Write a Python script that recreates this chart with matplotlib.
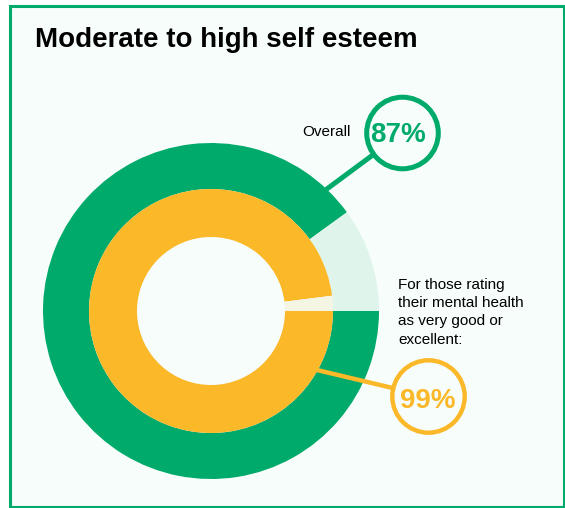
import matplotlib
matplotlib.use("Agg")
import matplotlib.pyplot as plt
from matplotlib.patches import Rectangle, Circle
import numpy as np

plt.rcParams['font.family'] = ['Liberation Sans', 'DejaVu Sans']

title = "Moderate to high self esteem"
overall_label = "Overall"
overall_text = "87%"
overall_ring = [90, 10]      # green share, remainder (as drawn)
subgroup_label = "For those rating\ntheir mental health\nas very good or\nexcellent:"
subgroup_text = "99%"
subgroup_ring = [98, 2]      # yellow share, remainder (as drawn)

green = "#00AA6A"
mint = "#DFF4EB"
yellow = "#FBB829"
cream = "#F5F5E4"
bg = "#F6FDFB"

W, H = 565, 508
fig = plt.figure(figsize=(W / 100, H / 100), dpi=100, facecolor="white")
ax = fig.add_axes([0, 0, 1, 1])

# frame
ax.add_patch(Rectangle((9.5, 5.5), 554.5, 501, facecolor=bg, edgecolor=green,
                       linewidth=2.2, zorder=0))

cx, cy = 211, 311
# y axis points down, so counterclock=True draws clockwise on screen
ax.pie(overall_ring, colors=[green, mint], radius=168, center=(cx, cy),
       startangle=0, counterclock=True,
       wedgeprops=dict(width=46, linewidth=0), frame=True)
ax.pie(subgroup_ring, colors=[yellow, cream], radius=122, center=(cx, cy),
       startangle=0, counterclock=True,
       wedgeprops=dict(width=48, linewidth=0), frame=True)

def polar(r, deg):
    a = np.radians(deg)
    return cx + r * np.cos(a), cy - r * np.sin(a)

# callout for overall
gx, gy = 402.5, 133
sx, sy = polar(160, 47)
ax.plot([sx, gx], [sy, gy], color=green, linewidth=3.6, solid_capstyle="butt", zorder=5)
ax.add_patch(Circle((gx, gy), 35.8, facecolor=bg, edgecolor=green, linewidth=3.6, zorder=6))
ax.text(398, 142.5, overall_text, color=green, fontsize=20, fontweight="bold",
        ha="center", va="baseline", zorder=7)
ax.text(302.5, 136, overall_label, fontsize=11, ha="left", va="baseline", color="black")

# callout for subgroup
yx, yy = 428.5, 396.5
sx, sy = polar(115, -30)
ax.plot([sx, yx], [sy, yy], color=yellow, linewidth=3.2, solid_capstyle="butt", zorder=5)
ax.add_patch(Circle((yx, yy), 36.2, facecolor=bg, edgecolor=yellow, linewidth=3.2, zorder=6))
ax.text(427.5, 408, subgroup_text, color=yellow, fontsize=20, fontweight="bold",
        ha="center", va="baseline", zorder=7)
# va="baseline" on multi-line text anchors the last line
ax.text(398.3, 343.5, subgroup_label, fontsize=11, ha="left", va="baseline",
        linespacing=1.37, color="black")

ax.text(35, 46.7, title, fontsize=20, fontweight="bold", ha="left", va="baseline")

ax.set_xlim(0, W)
ax.set_ylim(H, 0)
ax.set_aspect("auto")
ax.axis("off")

fig.savefig("out.png", dpi=100, facecolor="white")
